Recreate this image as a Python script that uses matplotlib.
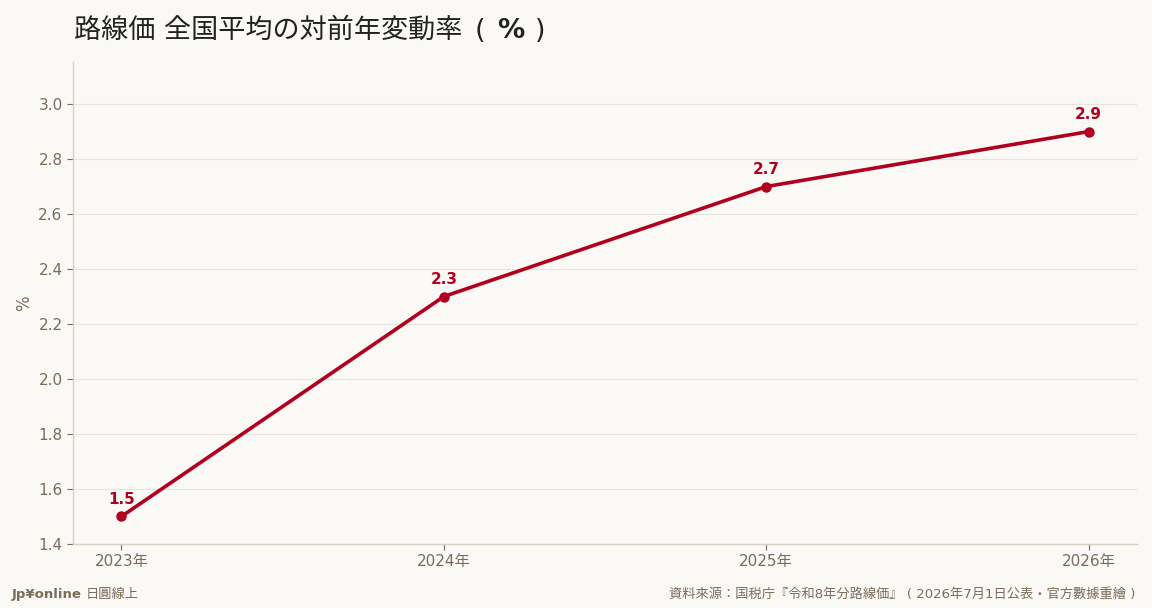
import matplotlib
matplotlib.use("Agg")
import matplotlib.pyplot as plt

years = ["2023年", "2024年", "2025年", "2026年"]
values = [1.5, 2.3, 2.7, 2.9]
yticks = [1.4, 1.6, 1.8, 2.0, 2.2, 2.4, 2.6, 2.8, 3.0]

FONTS = ["DejaVu Sans", "Noto Sans CJK JP"]
plt.rcParams["font.family"] = FONTS

bg = "#faf9f6"
red = "#b0001e"
muted = "#7a6c58"
spine_c = "#d8d0c4"
grid_c = "#e8e4dc"
W, H = 1152, 608

fig = plt.figure(figsize=(11.52, 6.08), dpi=100, facecolor=bg)
ax = fig.add_axes([0.0634, 0.1053, 0.9236, 0.7927], facecolor=bg)

x = list(range(len(years)))
ax.plot(x, values, color=red, lw=2.6, marker="o", ms=6.5, zorder=3)
for xi, v in zip(x, values):
    ax.annotate(f"{v:.1f}", (xi, v), xytext=(0, 7), textcoords="offset points",
                ha="center", va="bottom", color=red, fontsize=11, fontweight="bold")

ax.set_xlim(-0.15, 3.15)
ax.set_ylim(1.4, 3.153)
ax.set_xticks(x)
ax.set_xticklabels(years)
ax.set_yticks(yticks)
ax.set_yticklabels([f"{t:.1f}" for t in yticks])
ax.tick_params(colors=muted, labelsize=11, length=4, color=muted, width=0.8)
ax.set_ylabel("%", color=muted, fontsize=12, labelpad=4)

ax.grid(axis="y", color=grid_c, lw=0.8)
ax.set_axisbelow(True)
for s in ["top", "right"]:
    ax.spines[s].set_visible(False)
for s in ["left", "bottom"]:
    ax.spines[s].set_color(spine_c)
    ax.spines[s].set_linewidth(1.0)

# title: CJK part regular, bracketed % bold, pieces laid out by pixel
ty = (H - 38) / H
t1 = fig.text(0.064, ty, "路線価 全国平均の対前年変動率", fontsize=19.5,
              color="#222222", ha="left", va="baseline", family=FONTS)
fig.canvas.draw()
x_end = t1.get_window_extent().x1
fig.text((x_end + 13) / W, ty, "(", fontsize=19.5, color="#222222", va="baseline")
fig.text((x_end + 35) / W, ty, "%", fontsize=19.5, fontweight="bold",
         color="#222222", va="baseline")
fig.text((x_end + 73) / W, ty, ")", fontsize=19.5, color="#222222", va="baseline")

fig.text(0.010, 0.022, "Jp¥online", fontsize=9.5, fontweight="bold",
         color=muted, ha="left", va="center")
fig.text(0.074, 0.022, "日圓線上", fontsize=9.5, color=muted, ha="left", va="center",
         family=["Noto Sans CJK JP", "DejaVu Sans"])
fig.text(0.986, 0.022, "資料來源：国税庁『令和8年分路線価』 ( 2026年7月1日公表・官方數據重繪 )",
         fontsize=9.5, color=muted, ha="right", va="center", family=FONTS)

fig.savefig("out.png", dpi=100, facecolor=bg)
